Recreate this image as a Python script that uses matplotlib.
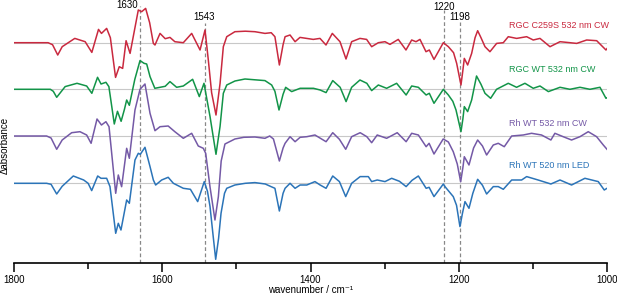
import numpy as np
import matplotlib
matplotlib.use('Agg')
import matplotlib.pyplot as plt

plt.rcParams['font.family'] = ['Liberation Sans', 'DejaVu Sans']

# difference spectra, wavenumber (cm-1) and delta absorbance (arb. units)
red_wn = [1800, 1754, 1748, 1741, 1735, 1718, 1704, 1695, 1686, 1682, 1675, 1670, 1663, 1658, 1653.4,
          1648.8, 1643.4, 1632.3, 1627.8, 1622.4, 1617, 1612, 1609.8, 1603, 1596, 1589.6, 1583, 1571.6,
          1560.3, 1549, 1542.3, 1537.9, 1533.4, 1527.5, 1522, 1517.6, 1513, 1502, 1488, 1475, 1461.4,
          1453, 1448, 1442, 1437, 1434.3, 1427.6, 1420.8, 1414.2, 1396.3, 1387.2, 1379.1, 1370.6, 1360.2,
          1352.1, 1344.5, 1333.3, 1324.3, 1317.5, 1308.5, 1299.5, 1292.8, 1281.6, 1271.2, 1263.5, 1257.7,
          1252.3, 1244.2, 1239.7, 1233.4, 1220.8, 1214, 1207, 1202.8, 1197, 1194.5, 1192.5, 1188, 1182.6,
          1178, 1174.5, 1170, 1164.6, 1157.9, 1148.9, 1139.9, 1133.2, 1121.9, 1108.4, 1099.5, 1090.4,
          1076.9, 1063.4, 1049.9, 1040.9, 1027.4, 1013.9, 1001.4, 999]
red_dA = [0, 0, -2, -12.3, -4, 4.3, 1, -9.7, 13.3, 9.3, 14.3, 5, -34.7, -24, -25.7,
          2, -10.7, 32.7, 31, 34.3, 20, -0.7, -2.3, 9.3, 4, 5.3, 1, 0,
          9.3, -7.3, 12.7, -17, -50, -72.3, -40.7, -4, 6, 11, 11.5, 11, 9.3,
          10, 6, -22.3, -2, 6, 7.7, 1, 5.3, 3.3, 4.3, -2.3, 9.3, 1,
          -16.3, 1, 4.3, 3.3, -4, 0, 1, -1.7, 3.3, -7.3, 2.7, 1,
          3.3, -9, -7.3, -16.7, 0, -4, -10, -20.7, -42.3, -28, -15.7, -22.3, -10.7,
          5, 12, 5, -4, -9, -0.7, 0, 6, 4.3, 6, 2.7, 4.3,
          -4, 1, 0, -0.7, 2.7, 2, -7.3, -5]

green_wn = [1800, 1751, 1747, 1742.4, 1736, 1731, 1715, 1702, 1695, 1687.3, 1682.6, 1676, 1672, 1664.7,
            1660.4, 1655.5, 1651, 1648, 1644.4, 1637, 1630, 1624.6, 1621, 1616.5, 1610, 1603, 1596,
            1589.6, 1580.6, 1571.6, 1559, 1550, 1543.7, 1535.6, 1527.5, 1522, 1517.6, 1513, 1501.9,
            1488.4, 1475, 1461.4, 1452.4, 1448, 1442.5, 1437, 1433.5, 1425.4, 1414, 1396, 1387, 1379,
            1370, 1360, 1352, 1344.5, 1333.3, 1324, 1317.5, 1308.5, 1297.3, 1283.8, 1271, 1263.5, 1254.5,
            1244, 1239.7, 1233.4, 1220.8, 1214, 1208, 1203.7, 1197, 1194.5, 1192.5, 1188, 1182.6, 1176,
            1170, 1164.6, 1157, 1149, 1133.2, 1122, 1110.7, 1099.5, 1090.4, 1079.1, 1063.4, 1050, 1036.5,
            1023, 1009.5, 1001.4, 999]
green_dA = [0, 0, -2, -8, -2, 2.7, 6, 3.3, -4, 12, 5.3, 7, 2.7, -34.7,
            -22, -32, -20, -10.7, -16, 10, 28.7, 26, 25.3, 12.7, 1, 2, 3,
            7.7, 2, 3.3, 10, -7.3, 6, -27, -65, -37, -4, 4.3, 8.3,
            10.3, 9.5, 8.7, 4.3, -2, -20.7, -5, 2, -2.3, 1, 1, -0.7, -3.3,
            8.7, 2, -12.3, 2, 9.3, 6, -1.3, 4.3, 1, 6, -5.7, 3.3, 2,
            -5.7, -4, -14, 0, -5.7, -12, -20.7, -42.3, -30, -17.3, -22.3, -10.7, 13.3,
            5, -4, -9, 0, 6, 2, 6, 1, 3.3, -2.3, 2, 0, 2,
            0, 2, -9, -8]

purple_wn = [1800, 1756, 1750, 1742.4, 1735, 1722.2, 1711, 1702, 1696, 1688, 1682, 1676, 1671.8, 1662.8,
             1659.3, 1654.8, 1648, 1644.4, 1636.8, 1630, 1623.3, 1616.5, 1609.8, 1603, 1592, 1583, 1571.6,
             1560.3, 1551.4, 1544.6, 1541.4, 1535.6, 1528.9, 1524.3, 1520.5, 1515.4, 1502, 1490, 1475,
             1461.4, 1455, 1450, 1442, 1437, 1434.3, 1427.6, 1420.8, 1414, 1405, 1394, 1379, 1370, 1361,
             1352.5, 1344.5, 1333, 1324, 1317.5, 1310, 1297.3, 1283, 1271, 1263.5, 1254.5, 1244, 1240,
             1233.4, 1221, 1214, 1207.4, 1202, 1197.4, 1194.5, 1192.5, 1186.2, 1180, 1174.5, 1168, 1162.4,
             1153.4, 1146.7, 1138.6, 1128.6, 1113, 1101.8, 1088.3, 1075.7, 1070.3, 1059.1, 1047.8, 1036.5,
             1025.3, 1014, 1005, 1000]
purple_dA = [0, 0, -2, -13.3, -4, 3.3, 4.3, 1, -7.3, 17, 11, 14.3, 9.3, -57.3,
             -39, -50.7, -12.3, -22.3, 26, 46.7, 52, 22.7, 5.3, 9.3, 10, 4.3, -2.3,
             2.7, -10, -12.3, -17.3, -50.7, -84, -60.7, -25, -8, -3, -1.3, -1,
             -2.3, 0, -3, -25, -12, -7.3, -0.7, -5.7, -1.3, -0.7, 1, -5.7, 3.3, -3.3,
             -13.3, -0.7, 3.3, -0.7, -6.7, 1, -2.3, 3.3, -5.7, 2.7, 1, -10.7, -7.3,
             -18, -3, -6, -15.7, -28, -45.7, -32, -20.7, -29, -12, -4, -10, -19,
             -9, -7.3, -10.7, 0, 1, 2.7, 1, -4, 2.7, -0.7, -4, -0.7,
             4.3, -0.7, -9, -13.3]

blue_wn = [1800, 1756, 1750, 1742.4, 1735, 1720, 1706, 1700, 1695.2, 1687.1, 1682.6, 1675, 1670.5, 1662.8,
           1659.3, 1655.7, 1648, 1644.4, 1636.8, 1632.3, 1629.6, 1623.3, 1616.5, 1612, 1608.9, 1600.8,
           1592, 1585, 1571.6, 1562, 1552.2, 1543.3, 1539, 1535.6, 1531, 1527.9, 1524, 1520.7, 1516, 1513,
           1502, 1488, 1475, 1461, 1453.3, 1448, 1442, 1437, 1434.3, 1427.6, 1420.8, 1414, 1405, 1394,
           1387, 1379, 1370, 1361, 1352.5, 1344.5, 1333, 1322, 1317.5, 1310, 1299.5, 1290.5, 1280, 1271,
           1263, 1254.5, 1244, 1240, 1233.4, 1220.8, 1218.6, 1207.4, 1203, 1198.4, 1195, 1191.6, 1186.2,
           1181, 1174.5, 1168, 1162.4, 1153.4, 1146.7, 1139.9, 1128.6, 1115.2, 1108.4, 1092.9, 1075.7,
           1063.4, 1047.8, 1029.8, 1011.8, 1003.7, 1000]
blue_dA = [0, 0, -1, -10.7, -3, 7.3, 3.3, 0, -7.3, 7.3, 5, 5, -3.3, -50,
           -40, -46.7, -16.7, -20, 23.3, 30, 29, 36, 16.7, 3.3, -1.7, 3.3,
           6, 0, -5, -6, -18.3, 1.7, -8, -23, -55, -76, -55, -30, -10, -5,
           -1.7, 0, 0.7, -0.7, -3.3, -5, -27.7, -10, -5, 0, -5, -1.7, -1.7, 1.7,
           -1.7, -5, 7.3, 1.7, -13.3, 0, 6.7, 6.7, 1.7, 3.3, 1.7, 5, 2, -3.3,
           3, 7.3, -5, -4, -13.3, -0.7, -3.3, -13.3, -22, -43.3, -30, -18.3, -25,
           -10, 4, -2, -10.7, -3.3, -3.3, -6, 3.3, 3.3, 6.7, 3.3, -0.7,
           3.3, -1.7, 5, 1.7, -6.7, -5]

names = ['RGC C259S 532 nm CW', 'RGC WT 532 nm CW', 'Rh WT 532 nm CW', 'Rh WT 520 nm LED']
colors = ['#c9293f', '#129448', '#7459a6', '#2b74b8']
marked = [1630, 1543, 1220, 1198]

fig = plt.figure(figsize=(6.17, 2.97), dpi=100)
ax = fig.add_axes([14/617, 34/297, 593/617, 263/297])

offsets = [220.3, 173.7, 127, 79.7]
spectra = [(red_wn, red_dA), (green_wn, green_dA), (purple_wn, purple_dA), (blue_wn, blue_dA)]
label_y = [238, 193, 140, 97]

for (wn, dA), off, c, name, ly in zip(spectra, offsets, colors, names, label_y):
    ax.plot([1800, 1000], [off, off], color='#c8c8c8', lw=0.8, zorder=1)
    ax.plot(wn, np.array(dA) + off, color=c, lw=1.1, zorder=3, solid_joinstyle='round')
    ax.text(1132, ly, name, color=c, fontsize=6.5, ha='left', va='center')

# dashed markers
tops = [257, 240, 253, 241]
lab_y = [258.5, 246, 256, 246]
for w, t, ly in zip(marked, tops, lab_y):
    ax.plot([w, w], [0, t], color='#888888', lw=0.9, ls=(0, (3, 2)), zorder=2)
    if w == 1630:
        ax.text(w + 2.5, ly, str(w), fontsize=7, ha='right', va='center')
    else:
        ax.text(w, ly, str(w), fontsize=7, ha='center', va='center')

ax.set_xlim(1800, 1000)
ax.set_ylim(0, 263)
for s in ['left', 'right', 'top']:
    ax.spines[s].set_visible(False)
ax.spines['bottom'].set_linewidth(1.2)
ax.set_yticks([])
ax.set_xticks([1800, 1600, 1400, 1200, 1000])
ax.set_xticks([1700, 1500, 1300, 1100], minor=True)
ax.tick_params(axis='x', which='major', length=6.5, width=1.1, pad=2, labelsize=7)
ax.tick_params(axis='x', which='minor', length=4.3, width=1.1)
ax.set_xlabel('wavenumber / cm⁻¹', fontsize=7, labelpad=0)
fig.text(5/617, 1 - 145/297, 'Δabsorbance', rotation=90, fontsize=7, ha='center', va='center')

fig.savefig('out.png', dpi=100)
